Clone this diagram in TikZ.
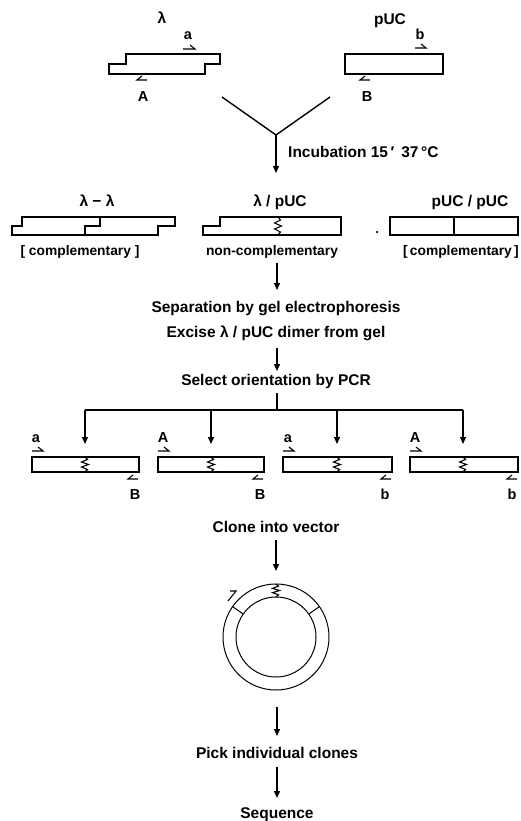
\documentclass[tikz,border=0pt]{standalone}
\usepackage{fontspec}
\setmainfont{Liberation Sans}
\usetikzlibrary{arrows.meta,calc}
\newcommand{\myzig}[3]{\pgfmathsetmacro\zh{(#3-#2)/6}\draw[zzs] (#1,#2) -- ++(2.5,\zh) -- ++(-6,\zh) -- ++(7,\zh) -- ++(-7,\zh) -- ++(6,\zh) -- ++(-2.5,\zh);}
\begin{document}
\begin{tikzpicture}[x=1pt,y=-1pt,
  txt/.style={font=\fontsize{15.5}{17}\selectfont\bfseries, inner sep=0pt, text height=11.1pt, text depth=0pt},
  lbl/.style={font=\fontsize{13.8}{15}\selectfont\bfseries, inner sep=0pt, text height=9.9pt, text depth=0pt},
  let/.style={font=\fontsize{14.5}{16}\selectfont\bfseries, inner sep=0pt, anchor=base},
  mol/.style={line width=1.5pt, line join=miter},
  zzs/.style={line width=1.1pt, line join=miter},
  flow/.style={line width=1.4pt, -{Triangle[length=7pt,width=6pt]}},
  plain/.style={line width=1.4pt},
  primer/.style={line width=1.1pt},
  ring/.style={line width=1pt}]
\useasboundingbox (0,0) rectangle (520,821);

% ---- top: lambda and pUC
\node[txt] (lam) at (162,18) {λ};
\node[txt] (puc) at (390,19) {pUC};
\draw[mol] (126,54) -- (220,54) -- (220,64) -- (205,64) -- (205,74) -- (109,74) -- (109,64) -- (126,64) -- cycle;
\draw[mol] (345,54) rectangle (443,74);
\node[let] (la) at (188,40) {a};
\node[let] (lA) at (143,102) {A};
\node[let] (lb) at (420,40) {b};
\node[let] (lB) at (367,102) {B};
\draw[primer] (183,49) -- (195,49) -- (190,45);
\draw[primer] (147,80) -- (137,80) -- (142,76);
\draw[primer] (415,48) -- (426,48) -- (421,44);
\draw[primer] (370,80) -- (360,80) -- (365,76);

% ---- V join and incubation
\coordinate (vl) at (222,97);
\coordinate (vr) at (330,97);
\coordinate (vj) at (276,135);
\coordinate (va) at (276,173);
\draw[plain] (vl) -- (vj) -- (vr);
\draw[flow] (vj) -- (va);
\node[txt, anchor=west] (inc) at (288,152) {Incubation 15\,′ \,37\,°C};

% ---- row 2
\node[txt] (ll) at (97,201) {λ − λ};
\node[txt] (lp) at (280,201) {λ / pUC};
\node[txt] (pp) at (470,201) {pUC / pUC};
% lambda-lambda
\draw[mol] (22,217) -- (175,217) -- (175,226) -- (158,226) -- (158,235) -- (12,235) -- (12,226) -- (22,226) -- cycle;
\draw[mol] (85,235) -- (85,226) -- (100,226) -- (100,217);
% lambda/pUC
\draw[mol] (220,217) -- (341,217) -- (341,235) -- (203,235) -- (203,226) -- (220,226) -- cycle;
\myzig{278}{217}{235}
% dot
\node[inner sep=0pt, minimum size=2.5pt, circle, fill=black] (dot) at (377,232) {};
% pUC/pUC
\draw[mol] (390,217) rectangle (518,235);
\draw[mol] (454,217) -- (454,235);
\node[lbl] (c1) at (80,251) {[ complementary ]};
\node[lbl] (nc) at (272,251) {non-complementary};
\node[lbl, anchor=east] (c2) at (519,251) {[\,complementary\,]};

% ---- separation
\coordinate (a2s) at (277,263);
\coordinate (a2e) at (277,290);
\draw[flow] (a2s) -- (a2e);
\node[txt] (sep) at (276,307) {Separation by gel electrophoresis};
\node[txt] (exc) at (276,332) {Excise λ / pUC dimer from gel};
\coordinate (a3s) at (277,348);
\coordinate (a3e) at (277,371);
\draw[flow] (a3s) -- (a3e);
\node[txt] (sel) at (276,380) {Select orientation by PCR};

% ---- PCR branching
\coordinate (b0) at (277,393);
\coordinate (bj) at (277,410);
\draw[plain] (b0) -- (bj);
\draw[plain] (85,410) -- (463,410);
\foreach \x in {85,211,337,463} {
  \draw[flow] (\x,410) -- (\x,444);
}
% molecules
\foreach \l/\r/\z in {32/139/85, 158/264/211, 283/392/337, 410/518/463} {
  \draw[mol] (\l,457) rectangle (\r,472);
  \myzig{\z}{457}{472}
  \draw[primer] (\l,451) -- ({\l+11},451) -- ({\l+6},447);
  \draw[primer] ({\r-1},479) -- ({\r-11},479) -- ({\r-6},475);
}
\node[let] (p1a) at (36,442) {a};
\node[let] (p2a) at (163,442) {A};
\node[let] (p3a) at (288,442) {a};
\node[let] (p4a) at (415,442) {A};
\node[let] (p1b) at (135,499) {B};
\node[let] (p2b) at (260,499) {B};
\node[let] (p3b) at (385,499) {b};
\node[let] (p4b) at (512,499) {b};

% ---- clone into vector
\node[txt] (clo) at (276,527) {Clone into vector};
\coordinate (a4s) at (276,540);
\coordinate (a4e) at (276,571);
\draw[flow] (a4s) -- (a4e);
\coordinate (cc) at (276,637);
\draw[ring] (cc) circle[radius=53];
\draw[ring] (cc) circle[radius=40];
\draw[ring] ($(cc)+(-145:40)$) -- ($(cc)+(-145:53)$);
\draw[ring] ($(cc)+(-35:40)$) -- ($(cc)+(-35:53)$);
\myzig{276}{584}{597}
\draw[primer] (228,601) -- (236,591) -- (230,591);

% ---- pick and sequence
\coordinate (a5s) at (277,707);
\coordinate (a5e) at (277,736);
\draw[flow] (a5s) -- (a5e);
\node[txt] (pic) at (277,753) {Pick individual clones};
\coordinate (a6s) at (277,767);
\coordinate (a6e) at (277,798);
\draw[flow] (a6s) -- (a6e);
\node[txt] (seq) at (277,813) {Sequence};
\end{tikzpicture}
\end{document}
